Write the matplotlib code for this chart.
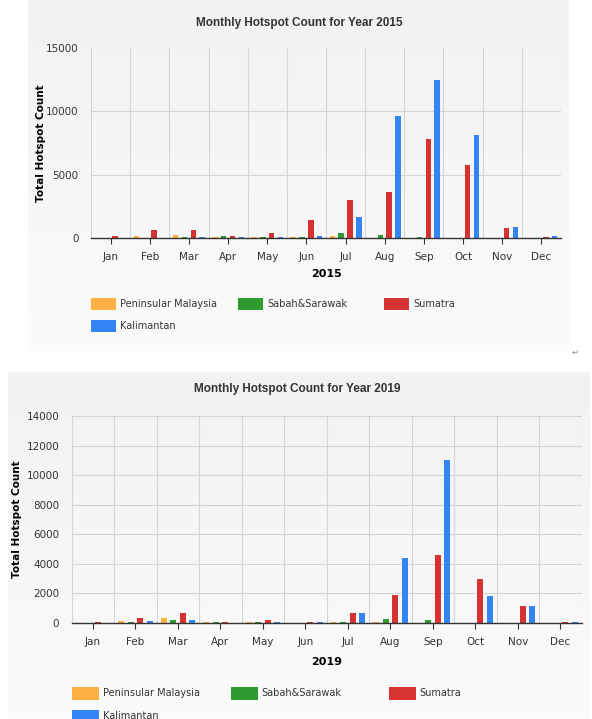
import numpy as np
import matplotlib.pyplot as plt
from matplotlib.patches import Rectangle
from matplotlib.colors import LinearSegmentedColormap

W, H = 592, 719

months = ['Jan', 'Feb', 'Mar', 'Apr', 'May', 'Jun', 'Jul', 'Aug', 'Sep', 'Oct', 'Nov', 'Dec']
regions = ['Peninsular Malaysia', 'Sabah&Sarawak', 'Sumatra', 'Kalimantan']
colors = ['#ffb043', '#2f9a2f', '#d63232', '#3385f5']

# 2015 values
pen_2015 = [0, 150, 235, 100, 100, 80, 150, 50, 30, 20, 0, 0]
sab_2015 = [0, 60, 130, 180, 100, 80, 390, 260, 130, 50, 0, 0]
sum_2015 = [180, 630, 630, 180, 390, 1440, 3010, 3610, 7770, 5730, 810, 110]
kal_2015 = [60, 50, 100, 100, 100, 180, 1700, 9620, 12480, 8085, 860, 180]

# 2019 values
pen_2019 = [0, 160, 370, 90, 80, 0, 90, 90, 30, 0, 0, 0]
sab_2019 = [0, 50, 180, 90, 40, 0, 60, 300, 230, 0, 0, 0]
sum_2019 = [40, 320, 650, 90, 180, 100, 650, 1870, 4580, 3000, 1150, 50]
kal_2019 = [20, 130, 180, 30, 40, 50, 650, 4400, 11050, 1850, 1160, 40]


def fx(x):
    return x / W


def fy(y):
    return 1 - y / H


fig = plt.figure(figsize=(W / 100, H / 100), dpi=100)
fig.patch.set_facecolor('white')

grad = LinearSegmentedColormap.from_list('bg', ['#f2f2f2', '#fbfbfb'])


def panel(x0, y0, x1, y1):
    bg = fig.add_axes([fx(x0), fy(y1), fx(x1) - fx(x0), fy(y0) - fy(y1)])
    bg.set_zorder(-5)
    bg.imshow(np.linspace(0, 1, 100).reshape(-1, 1), aspect='auto', cmap=grad,
              extent=[0, 1, 1, 0])
    bg.axis('off')


def chart(series, year, box, ymax, ystep, title_y, ylab_x, year_y,
          leg_y, leg_x, patch_w, patch_h, title_x):
    x0, y0, x1, y1 = box
    ax = fig.add_axes([fx(x0), fy(y1), fx(x1) - fx(x0), fy(y0) - fy(y1)])
    ax.set_zorder(1)
    ax.set_facecolor('none')
    xs = np.arange(12)
    offs = [-0.3375, -0.1125, 0.1125, 0.3375]
    for vals, c, o in zip(series, colors, offs):
        ax.bar(xs + o, vals, width=0.14, color=c, zorder=3)
    ax.set_xlim(-0.5, 11.5)
    ax.set_ylim(0, ymax)
    ax.set_yticks(np.arange(0, ymax + 1, ystep))
    ax.set_xticks(xs)
    ax.set_xticklabels(months)
    ax.set_xticks(np.arange(-0.5, 12, 1), minor=True)
    ax.grid(False)
    ax.grid(True, which='minor', axis='x', color='#d4d4d4', lw=0.8, zorder=0)
    ax.grid(True, which='major', axis='y', color='#d4d4d4', lw=0.8, zorder=0)
    for s in ['top', 'right', 'left']:
        ax.spines[s].set_visible(False)
    ax.spines['bottom'].set_color('#333333')
    ax.spines['bottom'].set_linewidth(1.0)
    ax.spines['bottom'].set_zorder(4)
    ax.tick_params(axis='x', which='major', length=4, color='#333333',
                   labelsize=7.5, labelcolor='#333333', pad=6)
    ax.tick_params(axis='x', which='minor', length=0)
    ax.tick_params(axis='y', length=0, labelsize=7.5, labelcolor='#333333', pad=9)

    fig.text(fx(title_x), fy(title_y), f'Monthly Hotspot Count for Year {year}',
             ha='center', va='center', fontsize=8.5, fontweight='bold',
             color='#333333', family='Liberation Sans')
    fig.text(fx(ylab_x), fy((y0 + y1) / 2), 'Total Hotspot Count', rotation=90,
             ha='center', va='center', fontsize=7.5, fontweight='bold', color='black')
    fig.text(fx((x0 + x1) / 2), fy(year_y), str(year), ha='center', va='center',
             fontsize=8, fontweight='bold', color='black')

    # legend, three per row
    for i, (name, c) in enumerate(zip(regions, colors)):
        row, col = divmod(i, 3)
        px = leg_x[col]
        py = leg_y[row]
        fig.patches.append(Rectangle((fx(px), fy(py + patch_h / 2)), patch_w / W, patch_h / H,
                                     transform=fig.transFigure, facecolor=c,
                                     edgecolor='none', zorder=2))
        fig.text(fx(px + patch_w + 4), fy(py), name, ha='left', va='center',
                 fontsize=7, color='#333333')
    return ax


# top chart (2015)
panel(28, 0, 569, 352)
chart([pen_2015, sab_2015, sum_2015, kal_2015], 2015, (91, 47.5, 561, 238.3),
      15000, 5000, title_y=23, ylab_x=41, year_y=274,
      leg_y=[303.5, 326], leg_x=[91, 238, 384], patch_w=25, patch_h=12, title_x=299)
fig.text(fx(575), fy(352), '\u21b5', ha='center', va='center', fontsize=6, color='#888888')

# bottom chart (2019)
panel(7.5, 372, 589, 719)
chart([pen_2019, sab_2019, sum_2019, kal_2019], 2019, (71.7, 416, 581.5, 623),
      14000, 2000, title_y=389, ylab_x=17.5, year_y=662,
      leg_y=[693.5, 716], leg_x=[71.7, 230.6, 388.7], patch_w=27, patch_h=13, title_x=297)

fig.savefig('out.png', dpi=100)
